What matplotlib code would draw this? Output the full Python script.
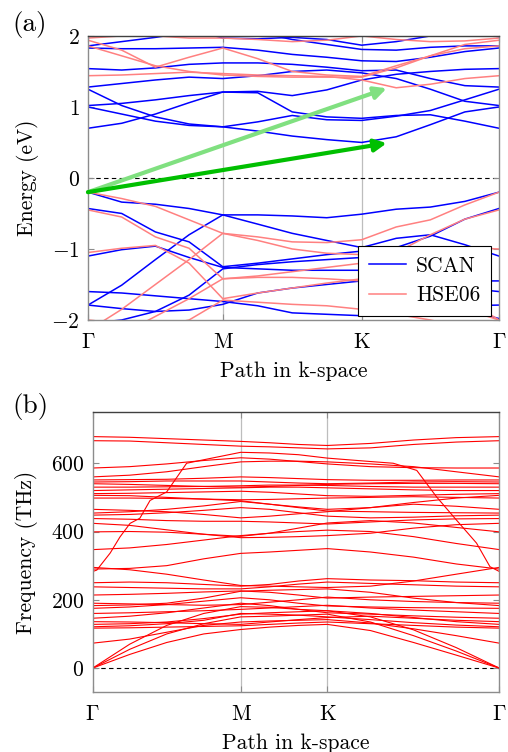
import numpy as np
import matplotlib.pyplot as plt

plt.rcParams['font.family'] = 'serif'
plt.rcParams['font.serif'] = ['cmr10']
plt.rcParams['mathtext.fontset'] = 'cm'
plt.rcParams['axes.formatter.use_mathtext'] = True
plt.rcParams['axes.unicode_minus'] = True

# ---------------- electronic bands (eV) along G-M-K-G ----------------
k_el = [0.0, 0.082, 0.164, 0.246, 0.328, 0.413, 0.497, 0.581, 0.666, 0.75, 0.833, 0.917, 1.0]
hs_el = [0.0, 0.328, 0.666, 1.0]

scan_bands = [
    [0.70, 0.77, 0.90, 1.06, 1.21, 1.20, 0.93, 0.86, 0.84, 0.88, 0.89, 0.80, 0.70],
    [1.00, 0.90, 0.80, 0.74, 0.72, 0.66, 0.59, 0.54, 0.50, 0.58, 0.75, 0.93, 1.00],
    [1.25, 1.02, 0.86, 0.76, 0.72, 0.79, 0.88, 0.82, 0.81, 0.87, 0.95, 1.10, 1.25],
    [1.02, 1.05, 1.10, 1.16, 1.21, 1.22, 1.16, 1.24, 1.38, 1.46, 1.50, 1.53, 1.54],
    [1.28, 1.33, 1.38, 1.42, 1.40, 1.44, 1.50, 1.52, 1.48, 1.40, 1.25, 1.08, 1.02],
    [1.54, 1.52, 1.55, 1.60, 1.62, 1.62, 1.60, 1.56, 1.51, 1.52, 1.40, 1.30, 1.28],
    [1.83, 1.82, 1.82, 1.83, 1.84, 1.80, 1.74, 1.70, 1.65, 1.64, 1.70, 1.78, 1.83],
    [1.86, 1.92, 1.98, 2.05, 2.10, 2.05, 1.95, 1.88, 1.81, 1.80, 1.84, 1.86, 1.86],
    [1.99, 2.05, 2.10, 2.10, 1.97, 1.96, 1.98, 1.95, 1.87, 1.92, 2.00, 2.05, 1.99],
    [-0.20, -0.34, -0.37, -0.43, -0.52, -0.52, -0.535, -0.56, -0.51, -0.44, -0.41, -0.33, -0.20],
    [-0.43, -0.50, -0.76, -0.90, -1.25, -1.20, -1.14, -1.08, -1.03, -0.98, -0.82, -0.58, -0.43],
    [-1.10, -1.01, -0.96, -1.12, -1.26, -1.28, -1.30, -1.30, -1.30, -1.38, -1.47, -1.55, -1.60],
    [-1.79, -1.51, -1.15, -0.80, -0.52, -0.65, -0.78, -0.88, -0.98, -0.85, -0.80, -0.94, -1.10],
    [-1.60, -1.62, -1.66, -1.70, -1.74, -1.80, -1.90, -1.92, -1.94, -1.90, -1.85, -1.80, -1.79],
    [-1.79, -1.84, -1.88, -1.86, -1.78, -1.62, -1.55, -1.50, -1.45, -1.42, -1.44, -1.45, -1.45],
    [-2.05, -2.00, -1.88, -1.65, -1.28, -1.22, -1.18, -1.15, -1.12, -1.40, -1.65, -1.85, -1.98],
]

hse_bands = [
    [1.44, 1.45, 1.47, 1.49, 1.47, 1.45, 1.44, 1.43, 1.38, 1.27, 1.32, 1.40, 1.44],
    [1.86, 1.72, 1.58, 1.50, 1.45, 1.43, 1.42, 1.42, 1.42, 1.55, 1.72, 1.82, 1.86],
    [1.94, 1.80, 1.56, 1.70, 1.83, 1.68, 1.50, 1.45, 1.43, 1.58, 1.72, 1.88, 1.94],
    [1.97, 2.00, 2.00, 1.97, 1.97, 1.95, 1.92, 1.94, 2.00, 1.95, 1.92, 1.93, 1.97],
    [-0.20, -0.29, -0.40, -0.59, -0.78, -0.83, -0.90, -0.91, -0.87, -0.69, -0.59, -0.38, -0.20],
    [-0.45, -0.55, -0.83, -0.99, -1.42, -1.38, -1.32, -1.26, -1.20, -1.05, -0.80, -0.58, -0.45],
    [-1.05, -0.99, -0.95, -1.20, -1.70, -1.62, -1.55, -1.48, -1.42, -1.30, -1.10, -0.98, -1.00],
    [-2.15, -1.85, -1.50, -1.15, -0.78, -0.88, -1.00, -1.06, -1.08, -1.20, -1.45, -1.70, -2.00],
    [-2.40, -2.20, -1.95, -1.70, -1.42, -1.40, -1.40, -1.42, -1.45, -1.55, -1.70, -1.85, -2.00],
    [-2.00, -2.05, -2.10, -2.00, -1.72, -1.75, -1.78, -1.80, -1.85, -1.92, -2.00, -2.10, -2.10],
]

# band-gap arrows: start at VBM, end at the two transitions
arrow_start = (0.0, -0.2)
arrow_direct = (0.727, 0.49)
arrow_hse = (0.727, 1.263)

# ---------------- phonon bands (THz) along G-M-K-G ----------------
k_ph = [0.0, 0.091, 0.182, 0.273, 0.364, 0.435, 0.506, 0.577, 0.683, 0.789, 0.894, 1.0]
hs_ph = [0.0, 0.364, 0.577, 1.0]

phonon_bands = [
    [0, 40, 75, 100, 113, 120, 125, 128, 110, 75, 38, 0],
    [0, 55, 100, 130, 150, 152, 155, 158, 135, 95, 50, 0],
    [0, 70, 125, 160, 180, 178, 172, 168, 150, 112, 60, 0],
    [73, 85, 105, 125, 135, 138, 140, 142, 132, 115, 95, 73],
    [117, 118, 120, 122, 124, 128, 132, 135, 130, 125, 120, 117],
    [121, 124, 130, 140, 160, 158, 155, 150, 142, 133, 126, 121],
    [128, 130, 135, 145, 158, 162, 165, 168, 160, 148, 136, 128],
    [136, 135, 133, 130, 128, 135, 142, 148, 152, 146, 140, 136],
    [146, 152, 162, 176, 190, 183, 172, 162, 158, 153, 149, 146],
    [160, 162, 165, 168, 172, 176, 180, 184, 176, 170, 165, 160],
    [175, 179, 186, 196, 206, 200, 190, 182, 179, 177, 176, 175],
    [183, 185, 190, 205, 225, 228, 230, 232, 222, 205, 192, 183],
    [190, 188, 186, 184, 186, 193, 200, 208, 200, 195, 192, 190],
    [214, 216, 219, 223, 226, 222, 214, 205, 208, 210, 212, 214],
    [238, 236, 234, 232, 232, 238, 246, 252, 248, 244, 240, 238],
    [250, 252, 250, 245, 240, 245, 255, 262, 258, 256, 252, 250],
    [295, 288, 275, 258, 242, 240, 238, 236, 240, 255, 275, 295],
    [290, 292, 300, 320, 336, 340, 345, 350, 340, 325, 305, 290],
    [347, 352, 362, 375, 388, 395, 400, 404, 400, 385, 365, 347],
    [399, 400, 398, 392, 386, 395, 410, 425, 432, 425, 412, 399],
    [424, 418, 405, 392, 382, 383, 385, 388, 395, 410, 420, 424],
    [438, 436, 432, 430, 430, 428, 425, 422, 428, 434, 437, 438],
    [448, 450, 455, 462, 470, 465, 455, 445, 440, 442, 446, 448],
    [454, 458, 465, 475, 488, 480, 470, 460, 458, 456, 455, 454],
    [465, 462, 458, 450, 440, 445, 452, 458, 470, 480, 474, 465],
    [498, 498, 497, 495, 493, 494, 496, 498, 500, 502, 500, 498],
    [506, 505, 500, 495, 490, 480, 472, 465, 470, 485, 498, 506],
    [511, 512, 514, 516, 518, 515, 510, 505, 503, 506, 509, 511],
    [520, 522, 524, 526, 528, 530, 530, 528, 525, 522, 520, 520],
    [530, 530, 531, 532, 534, 536, 536, 535, 532, 530, 530, 530],
    [540, 538, 535, 532, 530, 532, 535, 538, 540, 541, 541, 540],
    [545, 546, 548, 548, 548, 545, 542, 540, 542, 545, 546, 545],
    [551, 552, 553, 556, 560, 558, 555, 552, 550, 550, 551, 551],
    [560, 565, 575, 590, 604, 606, 606, 604, 598, 590, 575, 560],
    [586, 590, 598, 608, 616, 612, 605, 598, 590, 587, 586, 586],
    [666, 665, 660, 655, 650, 648, 645, 642, 645, 655, 662, 666],
    [678, 676, 672, 668, 664, 660, 655, 652, 658, 668, 675, 678],
]

# strongly dispersive optical branch, sampled more finely
k_ph_steep = [0.0, 0.01, 0.043, 0.067, 0.092, 0.116, 0.141, 0.182, 0.231, 0.264, 0.364,
              0.435, 0.506, 0.577, 0.683, 0.739, 0.797, 0.846, 0.895, 0.944, 0.977, 1.0]
ph_steep = [283, 287, 337, 384, 424, 439, 491, 516, 600, 608, 632,
            630, 625, 615, 605, 600, 579, 501, 433, 366, 297, 283]

kpath_labels = [r'$\Gamma$', 'M', 'K', r'$\Gamma$']

FS = 15.5
spine_col = '#8c8c8c'


def style_axes(ax, hs):
    for side in ['left', 'right', 'bottom']:
        ax.spines[side].set_color(spine_col)
    ax.spines['top'].set_color('#404040')
    for s in ax.spines.values():
        s.set_linewidth(1.0)
    for x in hs[1:-1]:
        ax.axvline(x, color='#bdbdbd', lw=0.9, zorder=0)
    ax.axhline(0, color='black', lw=0.8, dashes=(4, 3), zorder=1)
    ax.set_xticks(hs)
    ax.set_xticklabels(kpath_labels)
    ax.set_xlim(0, 1)
    ax.tick_params(direction='in', length=4, color='#8c8c8c', labelsize=FS,
                   top=True, right=True)
    ax.tick_params(axis='x', pad=9)
    ax.tick_params(axis='y', pad=6)
    ax.set_xlabel('Path in k-space', fontsize=FS, labelpad=7)


fig = plt.figure(figsize=(5.08, 7.52), dpi=100)

# ---- (a) electronic structure ----
ax1 = fig.add_axes([0.1732, 0.5745, 0.809, 0.3777])
for b in scan_bands:
    ax1.plot(k_el, b, color='#0000ff', lw=1.1)
for b in hse_bands:
    ax1.plot(k_el, b, color='#ff8080', lw=1.1)
ax1.plot([], [], color='#0000ff', lw=1.1, label='SCAN')
ax1.plot([], [], color='#ff8080', lw=1.1, label='HSE06')
ax1.annotate('', xy=arrow_hse, xytext=arrow_start,
             arrowprops=dict(arrowstyle='-|>', color='#80e080', lw=3, mutation_scale=18,
                             shrinkA=0, shrinkB=0), zorder=5)
ax1.annotate('', xy=arrow_direct, xytext=arrow_start,
             arrowprops=dict(arrowstyle='-|>', color='#00bf00', lw=3, mutation_scale=18,
                             shrinkA=0, shrinkB=0), zorder=6)
ax1.set_ylim(-2, 2)
ax1.set_yticks([-2, -1, 0, 1, 2])
style_axes(ax1, hs_el)
ax1.set_ylabel('Energy (eV)', fontsize=FS, labelpad=9)
leg = ax1.legend(loc='lower right', bbox_to_anchor=(0.981, 0.014), borderaxespad=0,
                 fontsize=FS, fancybox=False, framealpha=1, edgecolor='black',
                 handlelength=1.75, borderpad=0.5, labelspacing=0.45, handletextpad=0.45)
leg.get_frame().set_linewidth(0.8)
leg.set_zorder(10)

# ---- (b) phonon dispersion ----
ax2 = fig.add_axes([0.1825, 0.0798, 0.8004, 0.3723])
for b in phonon_bands:
    ax2.plot(k_ph, b, color='#ff0000', lw=0.8)
ax2.plot(k_ph_steep, ph_steep, color='#ff0000', lw=0.8)
ax2.set_ylim(-70, 750)
ax2.set_yticks([0, 200, 400, 600])
style_axes(ax2, hs_ph)
ax2.set_ylabel('Frequency (THz)', fontsize=FS, labelpad=9)

fig.text(0.059, 0.968, '(a)', fontsize=FS + 4, ha='center', va='center')
fig.text(0.059, 0.459, '(b)', fontsize=FS + 4, ha='center', va='center')

fig.savefig('out.png', dpi=100)
